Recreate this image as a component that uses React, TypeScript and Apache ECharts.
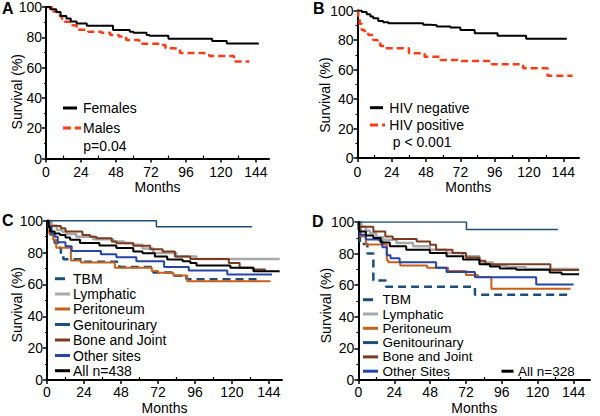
import React, { useEffect, useRef } from "react";
import * as echarts from "echarts";

const FONT = 'Arial, "Liberation Sans", Helvetica, sans-serif';

const monthTicks = [0, 24, 48, 72, 96, 120, 144];
const monthMinorTicks = [12, 36, 60, 84, 108, 132];
const panelLetters = ["A", "B", "C", "D"];
const yTitle = "Survival (%)";
const xTitle = "Months";

// Panel A: [month, survival %]
const femalesA = [[0, 100], [3, 98.5], [7, 96.7], [10, 94], [14, 92.4], [17, 90.5], [21, 89.1], [28, 87.6], [46, 84.8], [57.5, 83.7], [60, 83], [69, 81.6], [71, 81.1], [84, 79], [114, 77.6], [124, 75.9], [146, 75.9]];
const malesA = [[0, 100], [4, 97], [8, 94], [11, 92], [13, 90.2], [18, 88], [21, 85], [29, 83.7], [38, 83], [44, 81.6], [50, 80.5], [55, 78.3], [64, 76.7], [66, 75.7], [78, 75], [82, 72.8], [87, 72.4], [92, 69.6], [107, 69.2], [112, 67.7], [129, 64], [139.5, 64]];
const legendA = ["Females", "Males"];
const pValueA = "p=0.04";

// Panel B
const hivNegB = [[0, 100], [3, 99], [6.4, 97.5], [9, 96], [11, 94.7], [14.5, 92.9], [18, 92], [21.6, 91.3], [46, 90.4], [51, 90], [55.5, 89.2], [65, 88.5], [72, 86.8], [82, 84.5], [98, 82.9], [118, 80.9], [146.5, 80.9]];
const hivPosB = [[0, 100], [0.5, 95], [1.5, 91], [3, 86.8], [5, 85], [7.6, 83.4], [11, 80], [14, 78], [16, 76], [19, 74.4], [36, 71], [47, 68.7], [58, 66.4], [72, 65.8], [94, 63.5], [116, 60.8], [133, 55.8], [150.5, 55.8]];
const legendB = ["HIV negative", "HIV positive"];
const pValueB = "p < 0.001";

// Panel C
const tbmC = [[0, 100], [1, 95], [2, 91.3], [5, 86], [7.3, 83], [9, 79], [10.6, 75.8], [23.6, 74.3], [47, 71], [69, 67.5], [82, 65.4], [90.5, 63.3], [138, 63.3]];
const lymphC = [[0, 100], [3, 97], [6.3, 94.2], [10, 93], [12.8, 91.7], [19, 90], [30, 88.4], [43, 87], [50, 86], [56, 84.9], [62, 82.5], [69, 79.7], [84, 77.6], [97, 76], [151, 76]];
const periC = [[0, 100], [1.5, 92], [4, 88], [6, 83], [15.5, 75], [22, 73.8], [44, 70.5], [68, 68.5], [72, 67.3], [82, 65.6], [91, 62], [145, 62]];
const genitoC = [[0, 100], [71, 96.2], [133, 96.2]];
const boneC = [[0, 100], [1.5, 96.7], [9, 95.3], [12, 93.2], [23, 91.1], [28, 90], [32, 89], [42, 87], [45, 85.8], [56, 84.3], [67, 82], [75, 80.7], [83, 77.6], [93, 76], [118, 73.5], [125, 70.4], [134, 69.3], [142, 69.3]];
const otherC = [[0, 100], [1, 96], [3, 92], [5, 90], [7, 86.5], [12, 84], [16, 81], [35, 79], [45, 77], [58, 74.5], [76, 71], [92, 68.8], [117, 66.3], [146, 66.3]];
const allC = [[0, 100], [1, 96], [2, 93.2], [5, 92], [8.4, 91.1], [12, 89.5], [15, 88], [21.4, 86], [34, 84.5], [45, 82.8], [56, 80.7], [62, 79.5], [70, 77.5], [78, 75.6], [88, 74.5], [93, 73.5], [97, 71.8], [119, 70.4], [134, 68.3], [151, 68.3]];
const sitesC = ["TBM", "Lymphatic", "Peritoneum", "Genitourinary", "Bone and Joint", "Other sites", "All n=438"];

// Panel D
const tbmD = [[0, 100], [0.3, 92], [1, 86], [6, 80], [10, 63], [18.5, 59], [78, 54], [142, 54]];
const lymphD = [[0, 100], [2, 97], [5, 94.5], [7.8, 92.9], [12, 90.5], [16.6, 88.8], [25.5, 86.7], [36.6, 84.6], [47.8, 82.5], [59, 80.4], [70, 78.3], [81, 74.4], [90, 72.5], [99, 71.3], [112, 70.2], [147.7, 70.2]];
const periD = [[0, 100], [0.5, 97], [1.5, 90.8], [5, 85.7], [19, 75.8], [20, 74.5], [28, 72.5], [46, 71], [60, 69], [72, 66.5], [80, 65.2], [89, 57.7], [142, 57.7]];
const genitoD = [[0, 100], [72.3, 95.2], [133.5, 95.2]];
const boneD = [[0, 100], [0.5, 97], [10, 94], [18, 90.8], [23, 89.2], [39, 87.7], [48, 85.6], [52, 82.5], [63, 80.4], [72, 77.5], [81, 75.4], [85, 73.3], [128.5, 69.6], [147.7, 69.6]];
const otherD = [[0, 100], [0.5, 93], [1, 92], [5, 89], [14, 88], [16, 84], [19, 79], [21.5, 77], [27.6, 74.5], [52, 71], [59, 68.3], [78, 65], [119, 60.5], [144, 60.5]];
const allD = [[0, 100], [0.5, 94], [5, 91.5], [10, 89.8], [15, 87], [21, 84.6], [32, 82.5], [47.8, 80.4], [59, 78.3], [70, 76.2], [81, 73.3], [88, 71.8], [94.6, 70.6], [105.7, 69.8], [128, 68.1], [136, 67], [147.7, 67]];
const sitesD = ["TBM", "Lymphatic", "Peritoneum", "Genitourinary", "Bone and Joint", "Other Sites", "All n=328"];

const RED = "#ff3a14";
const siteStyles = [
  { color: "#1b4f7a", width: 2.5, type: [8, 5] as any },
  { color: "#a8a8a8", width: 2.5, type: "solid" },
  { color: "#c8601a", width: 2, type: "solid" },
  { color: "#1b4f7a", width: 1.5, type: "solid" },
  { color: "#7a3b1e", width: 2, type: "solid" },
  { color: "#2446a6", width: 2, type: "solid" },
  { color: "#000000", width: 2, type: "solid" },
];

const panels = [
  { grid: { left: 46, top: 5, width: 223, height: 153.5 }, xMax: 153, labelMargin: 6, nameGap: 21, yTitle: [16.7, 91.7] },
  { grid: { left: 357.5, top: 10.5, width: 221.5, height: 147.5 }, xMax: 155, labelMargin: 7, nameGap: 22, yTitle: [325, 95] },
  { grid: { left: 47, top: 220.7, width: 235, height: 160.8 }, xMax: 152.5, labelMargin: 5, nameGap: 21, yTitle: [16.7, 304.7] },
  { grid: { left: 358.4, top: 222, width: 231.6, height: 160 }, xMax: 155, labelMargin: 5, nameGap: 21, yTitle: [326, 305.5] },
];
const letterPos = [[2, 8.5], [313, 8.5], [2, 220.5], [312, 221]];

function stepSeries(i: number, name: string, data: number[][], color: string, width: number, type: any, z = 2) {
  return {
    type: "line",
    name,
    xAxisIndex: i,
    yAxisIndex: i,
    step: "end",
    data,
    showSymbol: false,
    symbol: "none",
    silent: true,
    z,
    lineStyle: { color, width, type },
  };
}

function text(x: number, y: number, t: string, extra: any = {}) {
  return {
    type: "text",
    x,
    y,
    silent: true,
    style: { text: t, fill: "#000", fontSize: 14, fontFamily: FONT, align: "left", verticalAlign: "middle", ...extra },
  };
}

function seg(x1: number, x2: number, y: number, color: string, width: number, dash?: number[]) {
  return {
    type: "line",
    silent: true,
    shape: { x1, y1: y, x2, y2: y },
    style: { stroke: color, lineWidth: width, lineDash: dash || null },
  };
}

function buildOption() {
  const grid = panels.map((p) => ({ ...p.grid, containLabel: false }));
  const xAxis: any[] = [];
  panels.forEach((p, i) => {
    xAxis.push({
      type: "value",
      gridIndex: i,
      position: "bottom",
      min: 0,
      max: p.xMax,
      name: xTitle,
      nameLocation: "middle",
      nameGap: p.nameGap,
      nameTextStyle: { fontSize: 14, color: "#000", fontFamily: FONT },
      axisLine: { show: true, lineStyle: { color: "#000", width: 2 } },
      axisTick: { show: true, customValues: monthTicks, length: 4, lineStyle: { color: "#000", width: 1.5 } },
      axisLabel: { customValues: monthTicks, margin: p.labelMargin, fontSize: 14, color: "#000", fontFamily: FONT },
      splitLine: { show: false },
    });
  });
  panels.forEach((p, i) => {
    xAxis.push({
      type: "value",
      gridIndex: i,
      position: "bottom",
      offset: 0,
      min: 0,
      max: p.xMax,
      axisLine: { show: false },
      axisTick: { show: true, inside: true, customValues: monthMinorTicks, length: 3, lineStyle: { color: "#000", width: 1.2 } },
      axisLabel: { show: false },
      splitLine: { show: false },
    });
  });
  const yAxis = panels.map((p, i) => ({
    type: "value",
    gridIndex: i,
    position: "left",
    min: 0,
    max: 100,
    interval: 20,
    axisLine: { show: true, lineStyle: { color: "#000", width: 2 } },
    axisTick: { show: true, length: 4, lineStyle: { color: "#000", width: 1.5 } },
    minorTick: { show: true, splitNumber: 2, length: 2, lineStyle: { color: "#000", width: 1.2 } },
    axisLabel: { margin: 4, fontSize: 14, color: "#000", fontFamily: FONT },
    splitLine: { show: false },
  }));

  const series: any[] = [
    stepSeries(0, legendA[1], malesA, RED, 2.5, [7, 4]),
    stepSeries(0, legendA[0], femalesA, "#000", 2, "solid", 3),
    stepSeries(1, legendB[1], hivPosB, RED, 2.5, [7, 4]),
    stepSeries(1, legendB[0], hivNegB, "#000", 2, "solid", 3),
  ];
  const dataC = [tbmC, lymphC, periC, genitoC, boneC, otherC, allC];
  const dataD = [tbmD, lymphD, periD, genitoD, boneD, otherD, allD];
  dataC.forEach((d, k) => series.push(stepSeries(2, sitesC[k], d, siteStyles[k].color, siteStyles[k].width, siteStyles[k].type, 2 + k)));
  dataD.forEach((d, k) => series.push(stepSeries(3, sitesD[k], d, siteStyles[k].color, siteStyles[k].width, siteStyles[k].type, 2 + k)));

  const graphic: any[] = [];
  panelLetters.forEach((L, i) =>
    graphic.push(text(letterPos[i][0], letterPos[i][1], L, { fontSize: 16, fontWeight: "bold" }))
  );
  panels.forEach((p) =>
    graphic.push({
      type: "text",
      x: p.yTitle[0],
      y: p.yTitle[1],
      rotation: Math.PI / 2,
      silent: true,
      style: { text: yTitle, fill: "#000", fontSize: 14, fontFamily: FONT, align: "center", verticalAlign: "middle" },
    })
  );
  // legend A
  graphic.push(seg(63, 77, 108, "#000", 3));
  graphic.push(text(83, 108.3, legendA[0]));
  graphic.push(seg(63, 81, 128, RED, 3, [8, 4]));
  graphic.push(text(83, 128.3, legendA[1]));
  graphic.push(text(83.3, 145.7, pValueA));
  // legend B
  graphic.push(seg(370, 383, 107.7, "#000", 3));
  graphic.push(text(389.3, 107.7, legendB[0]));
  graphic.push(seg(370, 385, 125, RED, 3, [8, 4]));
  graphic.push(text(389.3, 125, legendB[1]));
  graphic.push(text(392.7, 141.7, pValueB));
  // legend C
  const yC = [278.7, 294, 309, 324.5, 340, 355.5, 370.7];
  sitesC.forEach((s, k) => {
    const st = siteStyles[k];
    graphic.push(seg(55, 70, yC[k], st.color, 3, k === 0 ? [10, 6] : undefined));
    graphic.push(text(73, yC[k], s));
  });
  // legend D
  const yD = [299.7, 314, 328.3, 342.6, 356.9, 371.2, 371.2];
  sitesD.forEach((s, k) => {
    const st = siteStyles[k];
    const x1 = k === 6 ? 501.5 : 363;
    const x2 = k === 6 ? 513.5 : 378;
    const tx = k === 6 ? 518 : 382.5;
    graphic.push(seg(x1, x2, yD[k], st.color, 3, k === 0 ? [10, 6] : undefined));
    graphic.push(text(tx, yD[k], s, { fontSize: 13.5 }));
  });

  return {
    animation: false,
    backgroundColor: "#ffffff",
    textStyle: { fontFamily: FONT },
    grid,
    xAxis,
    yAxis,
    series,
    graphic,
  };
}

export default function App() {
  const ref = useRef<HTMLDivElement>(null);
  useEffect(() => {
    if (!ref.current) return;
    const chart = echarts.init(ref.current, null, { renderer: "svg" });
    chart.setOption(buildOption() as any);
    return () => chart.dispose();
  }, []);
  return (
    <div
      ref={ref}
      style={{ position: "absolute", left: 0, top: 0, width: 600, height: 416, background: "#fff" }}
    />
  );
}
